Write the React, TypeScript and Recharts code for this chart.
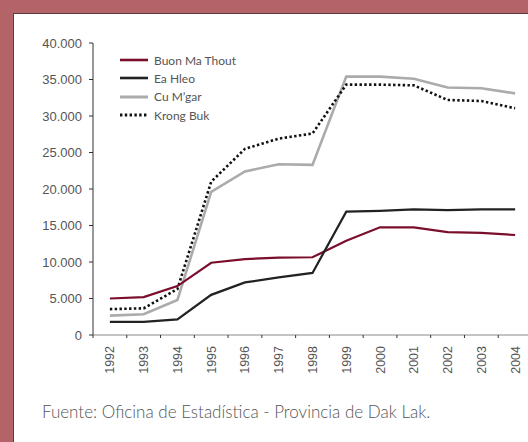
import { LineChart, Line, XAxis, YAxis } from "recharts";

// municipalities of Dak Lak, yearly figures 1992-2004
const years = ["1992", "1993", "1994", "1995", "1996", "1997", "1998", "1999", "2000", "2001", "2002", "2003", "2004"];
const buonMaThout = [5000, 5200, 6700, 9900, 10400, 10600, 10650, 12900, 14750, 14750, 14100, 14000, 13700];
const eaHleo = [1800, 1800, 2150, 5500, 7200, 7900, 8500, 16900, 17000, 17200, 17100, 17200, 17200];
const cuMgar = [2650, 2850, 4800, 19600, 22400, 23400, 23300, 35400, 35400, 35100, 33900, 33800, 33100];
const krongBuk = [3550, 3650, 6300, 21000, 25500, 26900, 27600, 34300, 34300, 34200, 32200, 32050, 31050];
const yTicks = [0, 5000, 10000, 15000, 20000, 25000, 30000, 35000, 40000];

const series = [
  { key: "cuMgar", name: "Cu M\u2019gar", color: "#ababab", width: 2.6, dash: undefined as string | undefined },
  { key: "krongBuk", name: "Krong Buk", color: "#111111", width: 2.6, dash: "2.4 2.4" },
  { key: "buonMaThout", name: "Buon Ma Thout", color: "#7a0e2b", width: 2.2, dash: undefined },
  { key: "eaHleo", name: "Ea Hleo", color: "#222222", width: 2.2, dash: undefined },
];
const legendOrder = ["buonMaThout", "eaHleo", "cuMgar", "krongBuk"];

const data = years.map((year, i) => ({
  year,
  buonMaThout: buonMaThout[i],
  eaHleo: eaHleo[i],
  cuMgar: cuMgar[i],
  krongBuk: krongBuk[i],
}));

const CHART_W = 532;
const CHART_H = 442;
const Y_W = 93;
const BAND = (CHART_W - Y_W) / years.length;

const fmt = (v: number) => String(v).replace(/\B(?=(\d{3})+(?!\d))/g, ".");

// rotated year label, with the tick mark drawn on the band boundary
// eslint-disable-next-line @typescript-eslint/no-explicit-any
function YearTick(props: any) {
  const { x, y, payload } = props;
  const left = x - BAND / 2;
  return (
    <g>
      <line x1={left} y1={y - 3} x2={left} y2={y} stroke="#333" strokeWidth={1} />
      <text
        x={0}
        y={0}
        dy="0.36em"
        transform={`translate(${x},${y + 8}) rotate(-90)`}
        textAnchor="end"
        fill="#555"
        fontSize={12.5}
        fontFamily="Liberation Sans, Arial, sans-serif"
      >
        {payload.value}
      </text>
    </g>
  );
}

export default function App() {
  return (
    <div
      style={{
        position: "absolute",
        left: 0,
        top: 0,
        width: 528,
        height: 442,
        overflow: "hidden",
        background: "#b46468",
      }}
    >
      <div
        style={{
          position: "absolute",
          left: 13,
          top: 13,
          width: 530,
          height: 440,
          background: "#ffffff",
          borderLeft: "1px solid #5c3b3d",
          borderTop: "1px solid #5c3b3d",
        }}
      />
      <div style={{ position: "absolute", left: 0, top: 0 }}>
        <LineChart
          width={CHART_W}
          height={CHART_H}
          data={data}
          margin={{ top: 43, right: 0, left: 0, bottom: 67 }}
        >
          <XAxis
            dataKey="year"
            scale="band"
            interval={0}
            height={40}
            stroke="#8a8a8a"
            tickLine={false}
            tickSize={3}
            tickMargin={0}
            tick={<YearTick />}
          />
          <YAxis
            width={Y_W}
            domain={[0, 40000]}
            ticks={yTicks}
            interval={0}
            stroke="#333"
            tickSize={4}
            tickMargin={7}
            tickFormatter={fmt}
            tick={{ fill: "#555", fontSize: 13, fontFamily: "Liberation Sans, Arial, sans-serif" }}
          />
          {series.map((s) => (
            <Line
              key={s.key}
              dataKey={s.key}
              name={s.name}
              type="linear"
              stroke={s.color}
              strokeWidth={s.width}
              strokeDasharray={s.dash}
              dot={false}
              activeDot={false}
              isAnimationActive={false}
            />
          ))}
        </LineChart>
      </div>

      {/* legend */}
      <div style={{ position: "absolute", left: 120, top: 51 }}>
        {legendOrder.map((k) => {
          const s = series.find((x) => x.key === k)!;
          return (
            <div key={k} style={{ display: "flex", alignItems: "center", height: 18.3 }}>
              <svg width={28} height={6} style={{ marginRight: 6 }}>
                <line
                  x1={0}
                  y1={3}
                  x2={28}
                  y2={3}
                  stroke={s.color}
                  strokeWidth={s.width + 0.4}
                  strokeDasharray={s.dash}
                />
              </svg>
              <span style={{ fontFamily: "Lato, sans-serif", fontSize: 12, color: "#555" }}>{s.name}</span>
            </div>
          );
        })}
      </div>

      <div
        style={{
          position: "absolute",
          left: 42,
          top: 401,
          fontFamily: "Lato, sans-serif",
          fontSize: 17,
          fontWeight: 300,
          color: "#555",
          whiteSpace: "nowrap",
        }}
      >
        Fuente: Oficina de Estadística - Provincia de Dak Lak.
      </div>
    </div>
  );
}
